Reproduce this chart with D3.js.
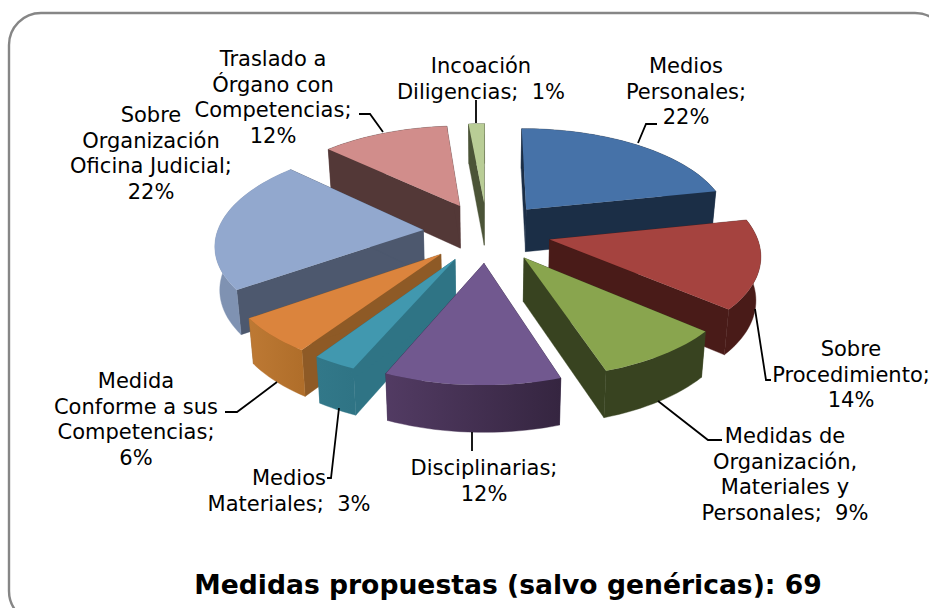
<!DOCTYPE html>
<html><head><meta charset="utf-8">
<script src="https://cdn.jsdelivr.net/npm/d3@7"></script>
<style>html,body{margin:0;padding:0;background:#fff}svg{display:block}</style>
</head><body><svg id="c" width="929" height="608"></svg>
<script>
// Data: counts of the 69 measures (percentages in labels are count / total)
const categories = [
  "Medios Personales","Sobre Procedimiento","Medidas de Organización, Materiales y Personales",
  "Disciplinarias","Medios Materiales","Medida Conforme a sus Competencias",
  "Sobre Organización Oficina Judicial","Traslado a Órgano con Competencias","Incoación Diligencias"];
const counts = [15,10,6,8,2,4,15,8,1];
const titleText = "Medidas propuestas (salvo genéricas): 69";
const labelLines = [
  ["Medios","Personales;","22%"],
  ["Sobre","Procedimiento;","14%"],
  ["Medidas de","Organización,","Materiales y","Personales;\u00a0 9%"],
  ["Disciplinarias;","12%"],
  ["Medios","Materiales;\u00a0 3%"],
  ["Medida","Conforme a sus","Competencias;","6%"],
  ["Sobre","Organización","Oficina Judicial;","22%"],
  ["Traslado a","Órgano con","Competencias;","12%"],
  ["Incoación","Diligencias;\u00a0 1%"]];
// Styling
const topColors  = ["#4672A8","#A5433F","#89A54E","#71588F","#4198AF","#DB843D","#92A8CE","#D18D8B","#B9CD96"];
const sideColors = ["#1B2E46","#491B18","#384320","#2F2240","#2F7485","#8E5A26","#4D586E","#533837","#4B5437"];
const rimFrom    = ["#1B2E46","#491B18","#384320","#523B63","#327889","#BD7934","#7F92B2","#533837","#4B5437"];
const rimTo      = ["#1B2E46","#491B18","#384320","#352540","#2F7485","#B06E2A","#7F92B2","#533837","#4B5437"];
const paintOrder = [8,7,0,6,1,5,2,4,3];
const labelCx = [686,851,785,484,289,136,151,273,481];
const labelTop = [65,348,435,467,477,380,114,58,65];
const lineStep = 25.7;
const leaders = [
  [[657,124],[646,124],[638,143]],
  [[755,309],[766,380],[771,380]],
  [[658,401],[708,440],[722,440]],
  [[472,432],[472,451]],
  [[339,408],[331,478],[327,478]],
  [[277,382],[237,412],[225,412]],
  [],
  [[359,114],[370,114],[383,132]],
  [[476,100],[476,123]]];

const R = 206, explode = 64, squash = 0.47, persp = 0.000635, depth = 43;
const cx = 487, cy = 232;
const sx = d3.scaleLinear().domain([-400,400]).range([cx-400,cx+400]);
const sy = d3.scaleLinear().domain([-400,400]).range([cy-400*squash,cy+400*squash]);
const k = Y => 1/(1-persp*Y);
const proj = (X,Y) => [sx(X*k(Y)), sy(Y*k(Y))];
const drop = (X,Y) => { const p = proj(X,Y); return [cx+(p[0]-cx)*0.982, p[1]+depth*Math.sqrt(k(Y))]; };

const svg = d3.select("#c");
const defs = svg.append("defs");
svg.append("rect").attr("x",9).attr("y",13).attr("width",938).attr("height",610)
  .attr("rx",32).attr("ry",32).attr("fill","#fff").attr("stroke","#868686").attr("stroke-width",2.4);

const arcs = d3.pie().sort(null).value(d=>d).startAngle(0).endAngle(2*Math.PI)(counts);
const line = d3.line();
const deg = Math.PI/90;

paintOrder.forEach(i=>{
  const a = arcs[i], mid = (a.startAngle+a.endAngle)/2;
  const ox = explode*Math.sin(mid), oy = -explode*Math.cos(mid);
  const n = Math.max(2,Math.ceil((a.endAngle-a.startAngle)/deg));
  const rimPts = d3.range(n+1).map(j=>{
    const t = a.startAngle+(a.endAngle-a.startAngle)*j/n;
    return [ox+R*Math.sin(t), oy-R*Math.cos(t)];
  });
  const topRim = rimPts.map(p=>proj(p[0],p[1]));
  const botRim = rimPts.map(p=>drop(p[0],p[1]));
  const apexT = proj(ox,oy), apexB = drop(ox,oy);
  const g = svg.append("g").attr("class","slice").attr("data-cat",categories[i]);
  const gid = "rim"+i, xs = topRim.map(p=>p[0]);
  const gr = defs.append("linearGradient").attr("id",gid).attr("gradientUnits","userSpaceOnUse")
    .attr("x1",d3.min(xs)).attr("x2",d3.max(xs)).attr("y1",0).attr("y2",0);
  gr.append("stop").attr("offset",0).attr("stop-color",rimFrom[i]);
  gr.append("stop").attr("offset",1).attr("stop-color",rimTo[i]);
  // radial walls
  [0,n].forEach(e=>g.append("path").attr("d",line([apexT,topRim[e],botRim[e],apexB])+"Z")
    .attr("fill",sideColors[i]).attr("stroke",sideColors[i]).attr("stroke-width",0.4));
  // outer wall
  g.append("path").attr("d",line(topRim.concat(botRim.slice().reverse()))+"Z").attr("fill",`url(#${gid})`)
    .attr("stroke",`url(#${gid})`).attr("stroke-width",0.4);
  // top
  g.append("path").attr("d",line([apexT].concat(topRim))+"Z").attr("fill",topColors[i]);
});

// leader lines
leaders.forEach(l=>{ if(l.length) svg.append("path").attr("d",line(l)).attr("fill","none").attr("stroke","#000").attr("stroke-width",1.8); });

// labels
labelLines.forEach((ls,i)=>{
  const t = svg.append("text").attr("text-anchor","middle").attr("font-family","'DejaVu Sans',sans-serif")
    .attr("font-size",21).attr("fill","#000");
  ls.forEach((s,j)=>t.append("tspan").attr("x",labelCx[i]).attr("y",labelTop[i]+8+j*lineStep).text(s));
});
svg.append("text").attr("x",508).attr("y",594).attr("text-anchor","middle")
  .attr("font-family","'DejaVu Sans',sans-serif").attr("font-weight","bold").attr("font-size",26.6).attr("fill","#000").text(titleText);
</script></body></html>
